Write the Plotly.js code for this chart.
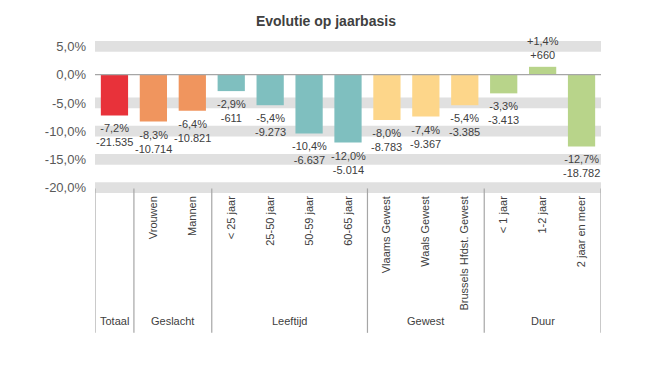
<!DOCTYPE html>
<html>
<head>
<meta charset="utf-8">
<script src="https://cdn.plot.ly/plotly-3.0.1.min.js"></script>
<style>html,body{margin:0;padding:0;background:#fff;}#chart{width:672px;height:377px;}</style>
</head>
<body>
<div id="chart"></div>
<script>
// ---- data ----
const categories = ["Totaal", "Vrouwen", "Mannen", "< 25 jaar", "25-50 jaar", "50-59 jaar", "60-65 jaar",
  "Vlaams Gewest", "Waals Gewest", "Brussels Hfdst. Gewest", "< 1 jaar", "1-2 jaar", "2 jaar en meer"];
const tickLabels = ["", "Vrouwen", "Mannen", "< 25 jaar", "25-50 jaar", "50-59 jaar", "60-65 jaar",
  "Vlaams Gewest", "Waals Gewest", "Brussels Hfdst. Gewest", "< 1 jaar", "1-2 jaar", "2 jaar en meer"];
const pctChange = [-7.2, -8.3, -6.4, -2.9, -5.4, -10.4, -12.0, -8.0, -7.4, -5.4, -3.3, 1.4, -12.7];
const absChange = [-21535, -10714, -10821, -611, -9273, -6637, -5014, -8783, -9367, -3385, -3413, 660, -18782];
const groupOf = ["Totaal", "Geslacht", "Geslacht", "Leeftijd", "Leeftijd", "Leeftijd", "Leeftijd",
  "Gewest", "Gewest", "Gewest", "Duur", "Duur", "Duur"];
const groupNames = ["Totaal", "Geslacht", "Leeftijd", "Gewest", "Duur"];
const yTickVals = [5, 0, -5, -10, -15, -20];

// ---- styling ----
const FONT = "Liberation Sans, Arial, sans-serif";
const groupColors = {Totaal: "#E8323A", Geslacht: "#F0955E", Leeftijd: "#7FBFBF", Gewest: "#FDD68A", Duur: "#B8D48A"};

function fmtPct(v) {
  const s = Math.abs(v).toFixed(1).replace(".", ",") + "%";
  return (v < 0 ? "-" : "+") + s;
}
function fmtNum(v) {
  const s = Math.abs(v).toString().replace(/\B(?=(\d{3})+(?!\d))/g, ".");
  return (v < 0 ? "-" : "+") + s;
}
const colors = groupOf.map(g => groupColors[g]);

const trace = {
  type: "bar",
  x: categories,
  y: pctChange,
  marker: {color: colors},
  cliponaxis: false,
  hoverinfo: "none"
};

const shapes = [];
yTickVals.filter(v => v !== 0).forEach(v => {
  shapes.push({type: "rect", xref: "paper", yref: "y", x0: 0, x1: 1, y0: v - 0.95, y1: v + 0.95,
    fillcolor: "#E0E0E0", line: {width: 0}, layer: "below"});
});
shapes.push({type: "line", xref: "paper", yref: "y", x0: 0, x1: 1, y0: 0, y1: 0,
  line: {color: "#A6A6A6", width: 1.2}, layer: "above"});

const annotations = [];
// value labels
pctChange.forEach((p, i) => {
  annotations.push({xref: "x", yref: "y", x: categories[i], y: p,
    text: fmtPct(p) + "<br>" + fmtNum(absChange[i]), showarrow: false,
    xanchor: "center", yanchor: p < 0 ? "top" : "bottom", yshift: p < 0 ? -5 : 4,
    font: {family: FONT, size: 11, color: "#404040"}});
});
// group separators and labels
const boundaries = [-0.5];
groupNames.forEach(g => {
  const idx = groupOf.map((x, i) => x === g ? i : -1).filter(i => i >= 0);
  const first = idx[0], last = idx[idx.length - 1];
  boundaries.push(last + 0.5);
  annotations.push({xref: "x", yref: "paper", x: (first + last) / 2, y: -0.842, text: g, showarrow: false,
    xanchor: "center", yanchor: "middle", font: {family: FONT, size: 11, color: "#404040"}});
});
boundaries.forEach(b => {
  shapes.push({type: "line", xref: "x", yref: "paper", x0: b, x1: b, y0: 0.03, y1: -0.92,
    line: {color: "#A6A6A6", width: 1.2}, layer: "above"});
});

const layout = {
  width: 672, height: 377,
  margin: {l: 95, r: 71, t: 41, b: 184},
  paper_bgcolor: "#fff", plot_bgcolor: "#fff",
  showlegend: false,
  bargap: 0.3,
  title: {text: "<b>Evolutie op jaarbasis</b>", xref: "container", yref: "container", x: 0.485, y: 0.944,
    xanchor: "center", yanchor: "middle",
    font: {family: FONT, size: 14, color: "#404040"}},
  xaxis: {type: "category", tickangle: -90, ticks: "", showgrid: false, zeroline: false, showline: false,
    tickmode: "array", tickvals: categories, ticktext: tickLabels,
    tickfont: {family: FONT, size: 11, color: "#404040"},
    automargin: false, range: [-0.5, 12.5]},
  yaxis: {range: [-20.94, 5.97], tickvals: yTickVals, ticktext: yTickVals.map(v => v.toFixed(1).replace(".", ",") + "%"),
    showgrid: false, zeroline: false, showline: false, ticks: "", ticklen: 0, ticklabelstandoff: 8,
    tickfont: {family: FONT, size: 13, color: "#595959"}, automargin: false},
  shapes: shapes,
  annotations: annotations
};

Plotly.newPlot("chart", [trace], layout, {displayModeBar: false, staticPlot: true});
</script>
</body>
</html>
